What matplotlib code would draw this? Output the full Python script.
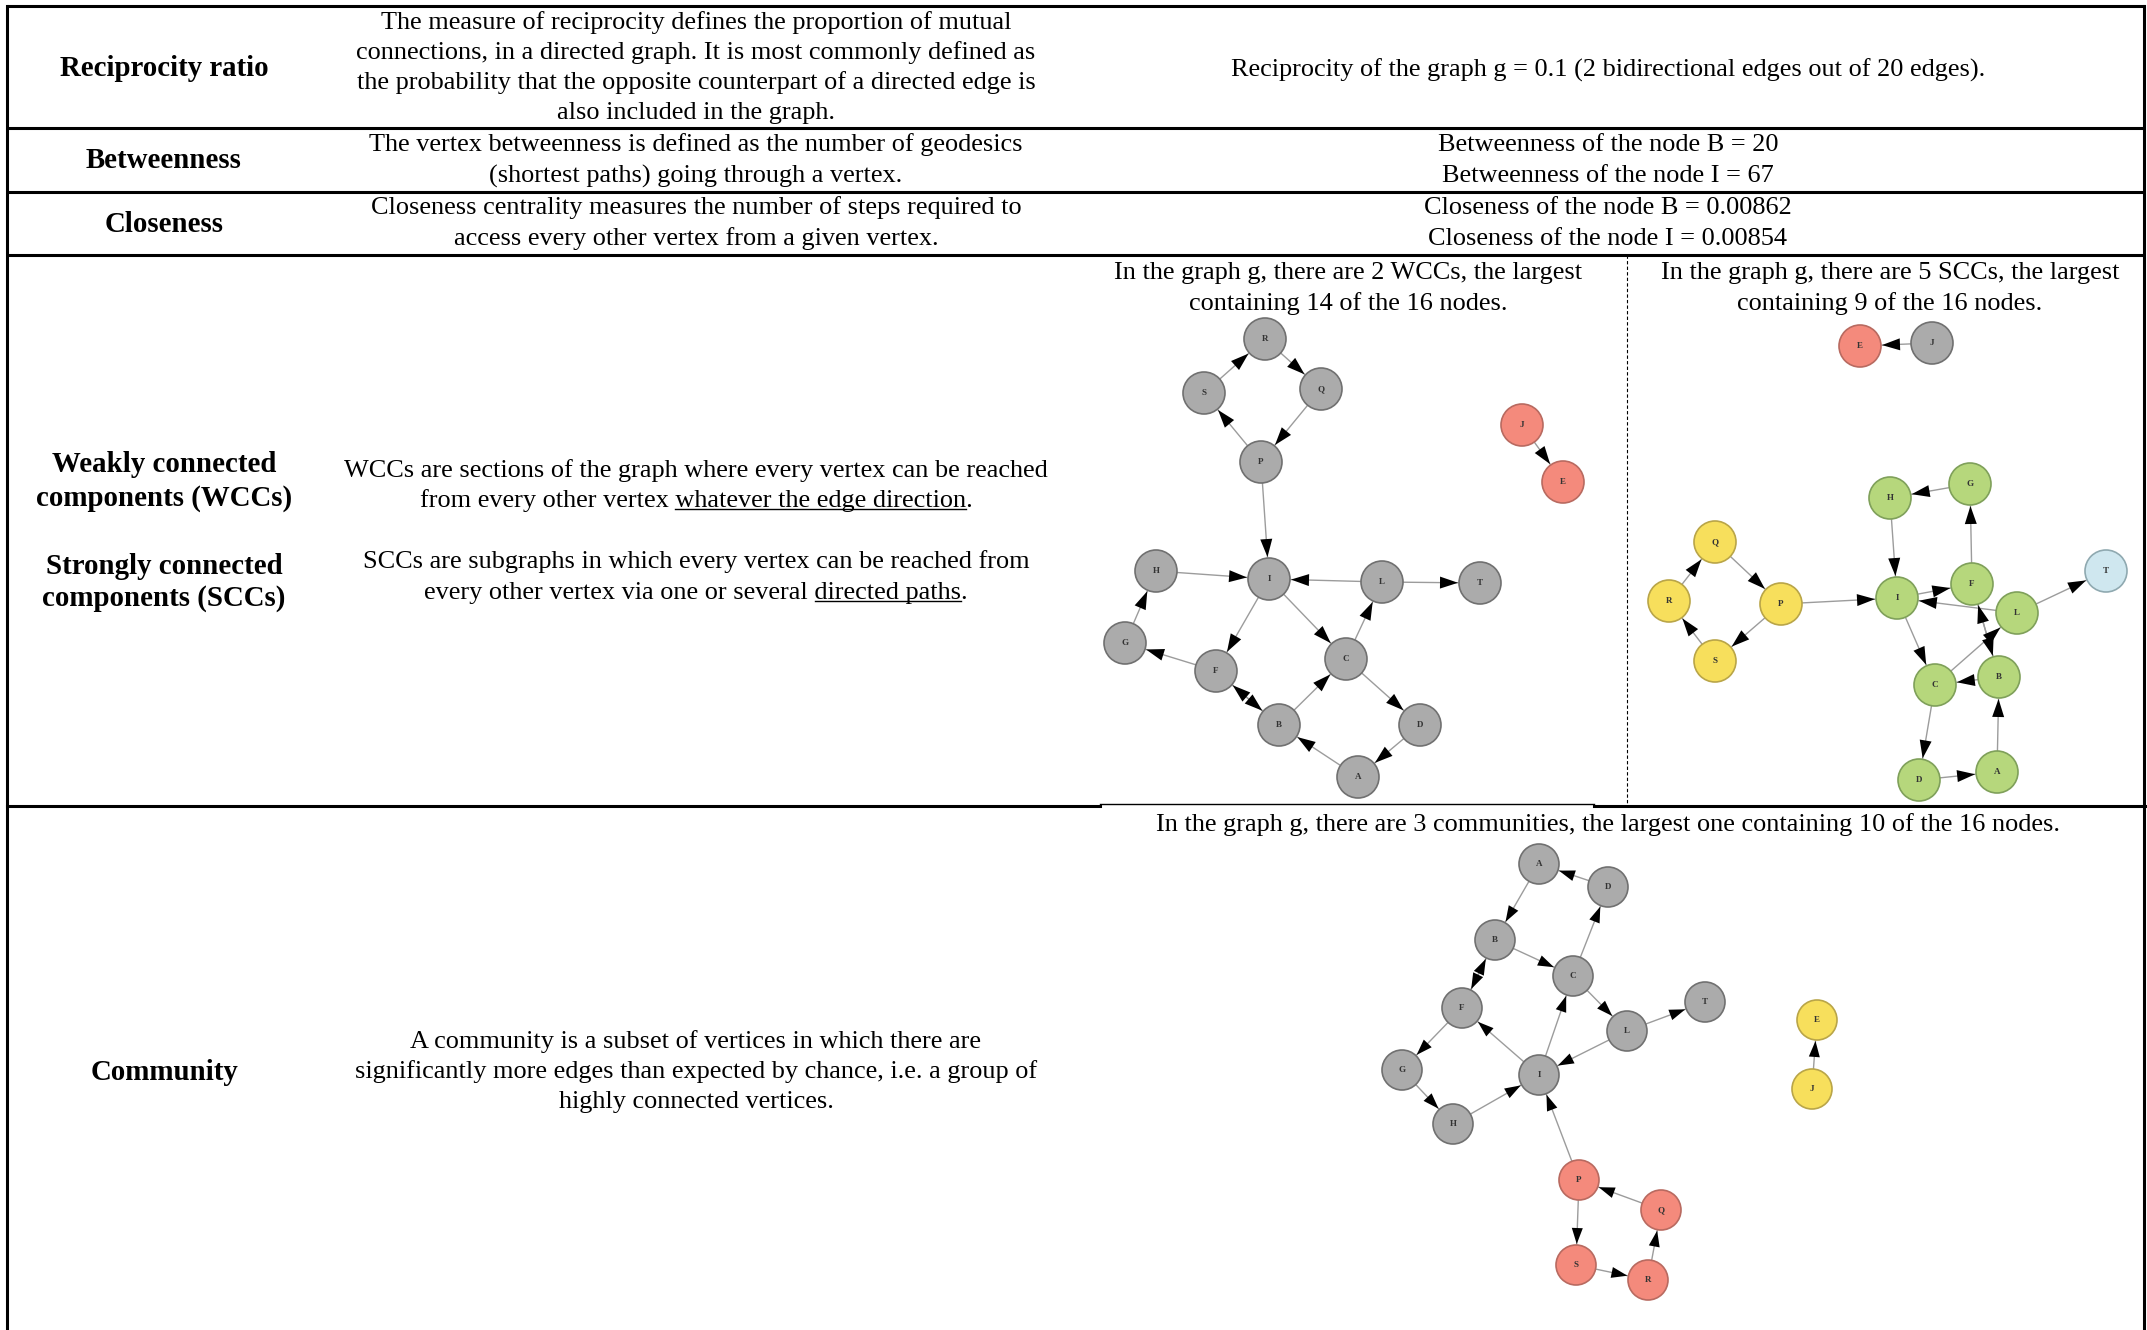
import numpy as np
import matplotlib.pyplot as plt
from matplotlib.patches import Circle, Polygon

W, H = 2147, 1330
serif = ['Liberation Serif', 'DejaVu Serif']

# ---- table text ----
head_lines = ["Reciprocity ratio", "Betweenness", "Closeness",
              "Weakly connected", "components (WCCs)",
              "Strongly connected", "components (SCCs)", "Community"]
head_y = [68, 160, 223, 464, 497, 566, 598, 1071]

desc_lines = ["The measure of reciprocity defines the proportion of mutual",
              "connections, in a directed graph. It is most commonly defined as",
              "the probability that the opposite counterpart of a directed edge is",
              "also included in the graph.",
              "The vertex betweenness is defined as the number of geodesics",
              "(shortest paths) going through a vertex.",
              "Closeness centrality measures the number of steps required to",
              "access every other vertex from a given vertex.",
              "WCCs are sections of the graph where every vertex can be reached",
              "from every other vertex whatever the edge direction.",
              "SCCs are subgraphs in which every vertex can be reached from",
              "every other vertex via one or several directed paths.",
              "A community is a subset of vertices in which there are",
              "significantly more edges than expected by chance, i.e. a group of",
              "highly connected vertices."]
desc_y = [22, 52, 82, 112, 144, 175, 207, 238, 470, 500, 561, 592, 1041, 1071, 1101]
underlined = {9: "whatever the edge direction", 11: "directed paths"}

result_lines = ["Reciprocity of the graph g = 0.1 (2 bidirectional edges out of 20 edges).",
                "Betweenness of the node B = 20",
                "Betweenness of the node I = 67",
                "Closeness of the node B = 0.00862",
                "Closeness of the node I = 0.00854",
                "In the graph g, there are 3 communities, the largest one containing 10 of the 16 nodes."]
result_y = [69, 144, 175, 207, 238, 824]

wcc_caption = ["In the graph g, there are 2 WCCs, the largest", "containing 14 of the 16 nodes."]
scc_caption = ["In the graph g, there are 5 SCCs, the largest", "containing 9 of the 16 nodes."]
caption_y = [272, 303]

row_lines = [6, 128, 192, 255]

# ---- graph data ----
nodes = ["A", "B", "C", "D", "E", "F", "G", "H", "I", "J", "L", "P", "Q", "R", "S", "T"]
edges = [("S", "R"), ("R", "Q"), ("Q", "P"), ("P", "S"), ("P", "I"), ("H", "I"),
         ("L", "I"), ("L", "T"), ("I", "F"), ("I", "C"), ("C", "L"), ("F", "G"),
         ("G", "H"), ("F", "B"), ("B", "F"), ("B", "C"), ("C", "D"), ("D", "A"),
         ("A", "B"), ("J", "E")]

wcc_x = [1358, 1279, 1346, 1420, 1563, 1216, 1125, 1156, 1269, 1522, 1382, 1261, 1321, 1265, 1204, 1480]
wcc_y = [777, 725, 659, 725, 482, 671, 643, 571, 579, 425, 582, 462, 389, 339, 393, 583]
wcc_col = ["gray"] * 4 + ["salmon"] + ["gray"] * 4 + ["salmon"] + ["gray"] * 6

scc_x = [1997, 1999, 1935, 1919, 1860, 1972, 1970, 1890, 1897, 1932, 2017, 1781, 1715, 1669, 1715, 2106]
scc_y = [772, 677, 685, 780, 346, 584, 484, 498, 598, 343, 613, 604, 542, 601, 661, 571]
scc_col = ["green"] * 4 + ["salmon"] + ["green"] * 4 + ["gray", "green"] + ["yellow"] * 4 + ["blue"]

com_x = [1539, 1495, 1573, 1608, 1817, 1462, 1402, 1453, 1539, 1812, 1627, 1579, 1661, 1648, 1576, 1705]
com_y = [864, 940, 976, 887, 1020, 1008, 1070, 1124, 1075, 1089, 1031, 1180, 1210, 1280, 1265, 1002]
com_col = ["gray"] * 4 + ["yellow"] + ["gray"] * 4 + ["yellow", "gray"] + ["salmon"] * 4 + ["gray"]

face = {"gray": "#ababab", "salmon": "#f48a7c", "yellow": "#f7df5c",
        "green": "#b6d77c", "blue": "#cfe7ef"}
edge = {"gray": "#707070", "salmon": "#b86a60", "yellow": "#b9a548",
        "green": "#7fa05a", "blue": "#8fa9b0"}

fig = plt.figure(figsize=(W / 100, H / 100), dpi=100)
ax = fig.add_axes([0, 0, 1, 1])
ax.set_xlim(0, W)
ax.set_ylim(H, 0)
ax.axis('off')


def draw_graph(xs, ys, cols, r=21, hl=18, hw=12):
    pos = {n: np.array([x, y], float) for n, x, y in zip(nodes, xs, ys)}
    for a, b in edges:
        d = pos[b] - pos[a]
        u = d / np.hypot(*d)
        s = pos[a] + u * r
        e = pos[b] - u * (r + 1)
        ax.plot([s[0], e[0]], [s[1], e[1]], color='#9c9c9c', lw=1.0, zorder=1)
        perp = np.array([-u[1], u[0]])
        base = e - u * hl
        ax.add_patch(Polygon([e, base + perp * hw / 2, base - perp * hw / 2],
                             closed=True, color='black', lw=0, zorder=2))
    for n, c in zip(nodes, cols):
        ax.add_patch(Circle(pos[n], r, facecolor=face[c], edgecolor=edge[c], lw=1.2, zorder=3))
        ax.text(pos[n][0], pos[n][1], n, ha='center', va='center', fontsize=6.5,
                fontweight='bold', family=serif, color='#333333', zorder=4)


draw_graph(wcc_x, wcc_y, wcc_col)
draw_graph(scc_x, scc_y, scc_col)
draw_graph(com_x, com_y, com_col, r=20, hl=16, hw=11)

# ---- table rules ----
lw = 2.2
for y in row_lines:
    ax.plot([7, 2145], [y, y], color='black', lw=lw, solid_capstyle='butt')
ax.plot([7, 1100], [806, 806], color='black', lw=lw)
ax.plot([1100, 1594], [804, 804], color='black', lw=1.0)
ax.plot([1594, 2145], [806, 806], color='black', lw=lw)
ax.plot([7, 7], [6, H], color='black', lw=lw)
ax.plot([2144, 2144], [6, H], color='black', lw=lw)
ax.plot([1627, 1627], [255, 806], color='black', lw=0.8, ls=(0, (3, 2)))

# ---- text ----
fs = 18.9
dy = 1
for s, y in zip(head_lines, head_y):
    ax.text(164, y + dy, s, ha='center', va='center', fontsize=20.8, fontweight='bold', family=serif)
desc_txt = []
for s, y in zip(desc_lines, desc_y):
    desc_txt.append(ax.text(696, y + dy, s, ha='center', va='center', fontsize=fs, family=serif))
for s, y in zip(result_lines, result_y):
    ax.text(1608, y + dy, s, ha='center', va='center', fontsize=fs, family=serif)
for s, y in zip(wcc_caption, caption_y):
    ax.text(1348, y + dy, s, ha='center', va='center', fontsize=fs, family=serif)
for s, y in zip(scc_caption, caption_y):
    ax.text(1890, y + dy, s, ha='center', va='center', fontsize=fs, family=serif)

# underline parts of two description lines
fig.canvas.draw()
rend = fig.canvas.get_renderer()


def width(s):
    t = ax.text(0, 0, s, fontsize=fs, family=serif)
    w = t.get_window_extent(rend).width
    t.remove()
    return w


inv = ax.transData.inverted()
for i, part in underlined.items():
    full = desc_lines[i]
    bb = desc_txt[i].get_window_extent(rend)
    tail = full[full.index(part):]
    x1 = bb.x1 - width(tail)
    x2 = bb.x1 - width(tail[len(part):])
    yd = bb.y0 + 3
    (a, ya), (b, _) = inv.transform([(x1, yd), (x2, yd)])
    ax.plot([a, b], [ya, ya], color='black', lw=1.0)

fig.savefig('out.png', dpi=100)
